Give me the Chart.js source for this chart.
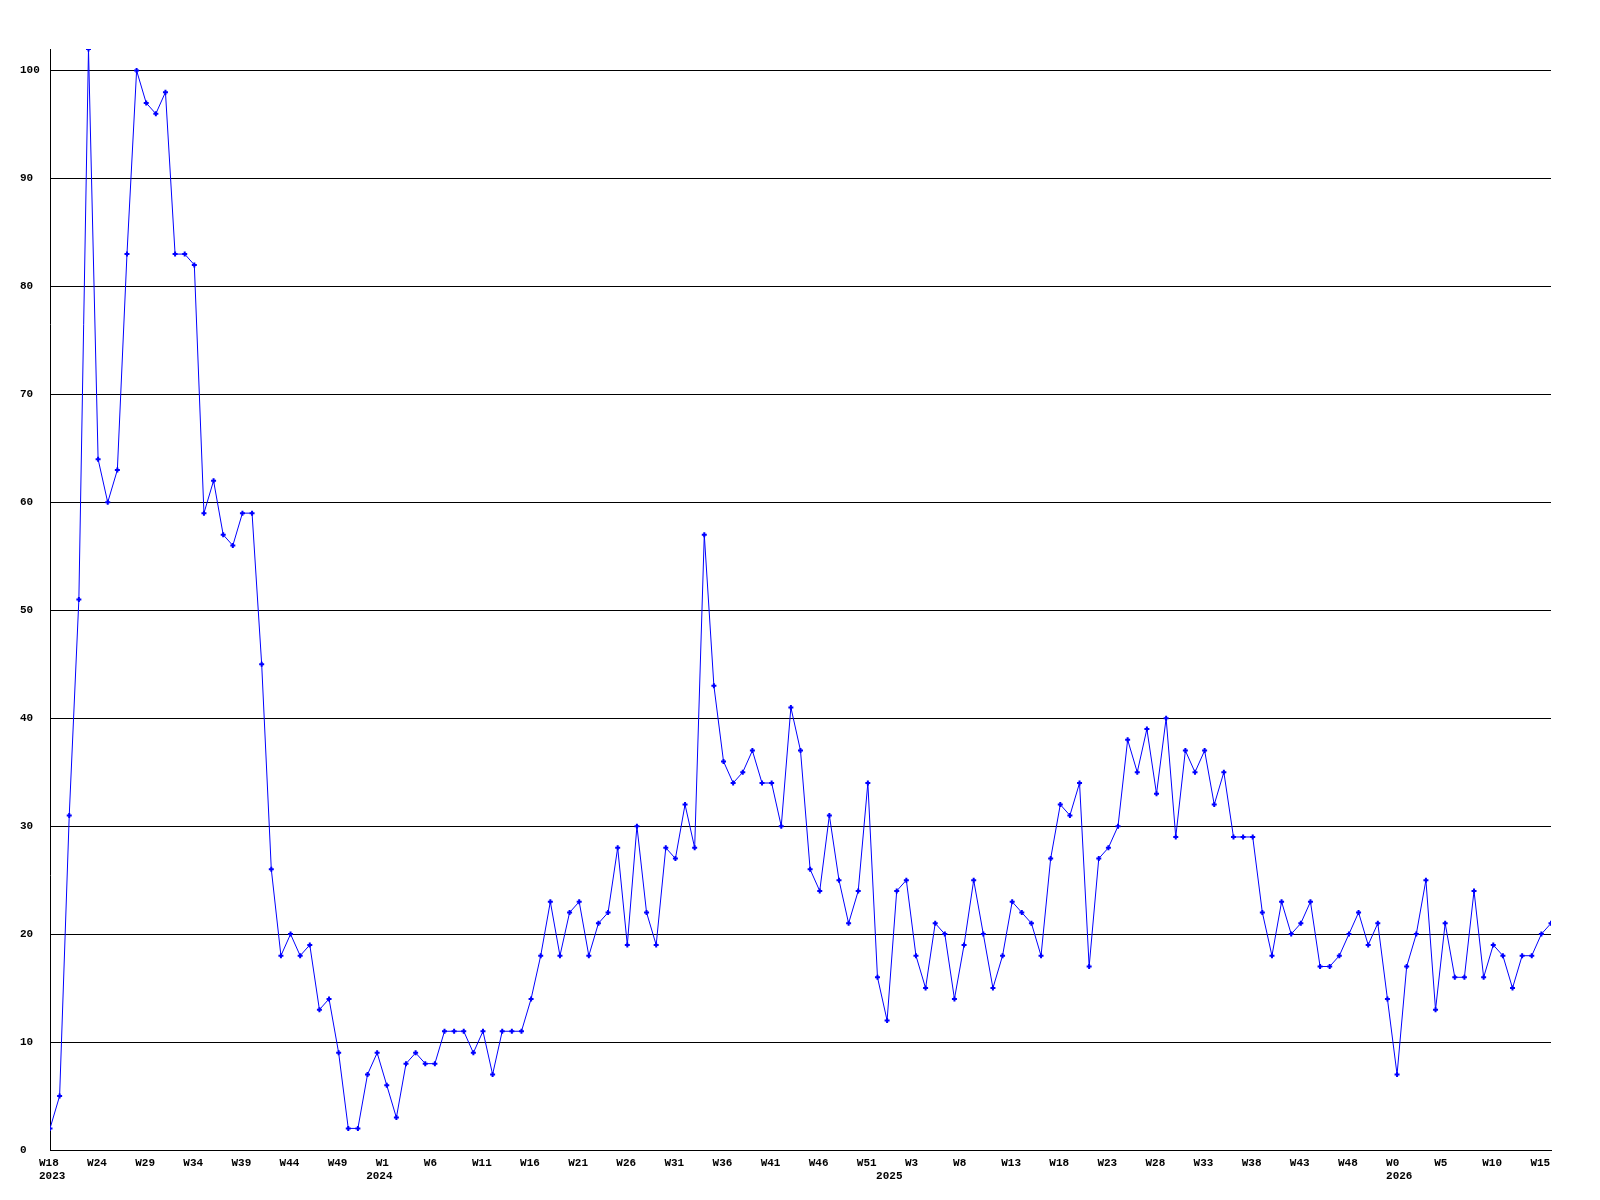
<!DOCTYPE html>
<html>
<head>
<meta charset="utf-8">
<script src="https://cdn.jsdelivr.net/npm/chart.js@4.4.1/dist/chart.umd.min.js"></script>
<style>
    body { margin: 0; background: #fff; }
</style>
</head>
<body>
<canvas id="weekChart" width="1600" height="1200"></canvas>
<script>
// weekly counts, one per week from W18 2023
const values = [
    2, 5, 31, 51, 102, 64, 60, 63, 83, 100, 97, 96, 98, 83, 83, 82, 59, 62, 57, 56, 59, 59, 45, 26, 18,
    20, 18, 19, 13, 14, 9, 2, 2, 7, 9, 6, 3, 8, 9, 8, 8, 11, 11, 11, 9, 11, 7, 11, 11, 11,
    14, 18, 23, 18, 22, 23, 18, 21, 22, 28, 19, 30, 22, 19, 28, 27, 32, 28, 57, 43, 36, 34, 35, 37, 34,
    34, 30, 41, 37, 26, 24, 31, 25, 21, 24, 34, 16, 12, 24, 25, 18, 15, 21, 20, 14, 19, 25, 20, 15, 18,
    23, 22, 21, 18, 27, 32, 31, 34, 17, 27, 28, 30, 38, 35, 39, 33, 40, 29, 37, 35, 37, 32, 35, 29, 29,
    29, 22, 18, 23, 20, 21, 23, 17, 17, 18, 20, 22, 19, 21, 14, 7, 17, 20, 25, 13, 21, 16, 16, 24, 16,
    19, 18, 15, 18, 18, 20, 21
];

// a week label every 5 points
const weekLabels = ['W18', 'W24', 'W29', 'W34', 'W39', 'W44', 'W49', 'W1', 'W6', 'W11', 'W16', 'W21',
    'W26', 'W31', 'W36', 'W41', 'W46', 'W51', 'W3', 'W8', 'W13', 'W18', 'W23', 'W28', 'W33', 'W38',
    'W43', 'W48', 'W0', 'W5', 'W10', 'W15'];
const yearLabels = ['2023', '2024', '2025', '2026'];
const yearAt = [0, 34, 87, 140]; // point index under which the year is written

const tickFont = { family: "'Liberation Mono', 'DejaVu Sans Mono', monospace", size: 11, weight: 'bold' };

const points = values.map((v, i) => ({ x: i, y: v }));

const config = {
    type: 'line',
    data: {
        datasets: [{
            data: points,
            xAxisID: 'x',
            borderColor: '#0000ff',
            backgroundColor: '#0000ff',
            borderWidth: 1,
            tension: 0,
            pointStyle: 'cross',
            pointRadius: 2.5,
            pointBorderWidth: 2
        }]
    },
    options: {
        responsive: false,
        animation: false,
        layout: { padding: { top: 49, right: 49, left: 20, bottom: 0 } },
        plugins: { legend: { display: false }, tooltip: { enabled: false } },
        scales: {
            x: {
                type: 'linear',
                position: 'bottom',
                min: 0,
                max: values.length - 1,
                afterFit: s => { s.height = 20; },
                grid: { display: false, drawTicks: false },
                border: { display: true, color: '#000', width: 1 },
                ticks: {
                    stepSize: 5,
                    includeBounds: false,
                    autoSkip: false,
                    maxRotation: 0,
                    align: 'start',
                    labelOffset: -11,
                    padding: 7,
                    color: '#000',
                    font: tickFont,
                    callback: v => (v % 5 === 0 ? weekLabels[v / 5] : null)
                }
            },
            years: {
                type: 'linear',
                position: 'bottom',
                min: 0,
                max: values.length - 1,
                afterFit: s => { s.height = 30; },
                afterBuildTicks: s => { s.ticks = yearAt.map(v => ({ value: v })); },
                grid: { display: false, drawTicks: false },
                border: { display: false },
                ticks: {
                    autoSkip: false,
                    maxRotation: 0,
                    align: 'start',
                    labelOffset: -11,
                    padding: 0,
                    color: '#000',
                    font: tickFont,
                    callback: v => yearLabels[yearAt.indexOf(v)]
                }
            },
            y: {
                min: 0,
                max: 102,
                afterFit: s => { s.width = 30; },
                grid: { color: '#000', lineWidth: 1, drawTicks: false },
                border: { display: true, color: '#000', width: 1 },
                ticks: {
                    stepSize: 10,
                    includeBounds: false,
                    crossAlign: 'far',
                    color: '#000',
                    font: tickFont
                }
            }
        }
    }
};

const ctx = document.getElementById('weekChart').getContext('2d');
const weekChart = new Chart(ctx, config);
</script>
</body>
</html>
